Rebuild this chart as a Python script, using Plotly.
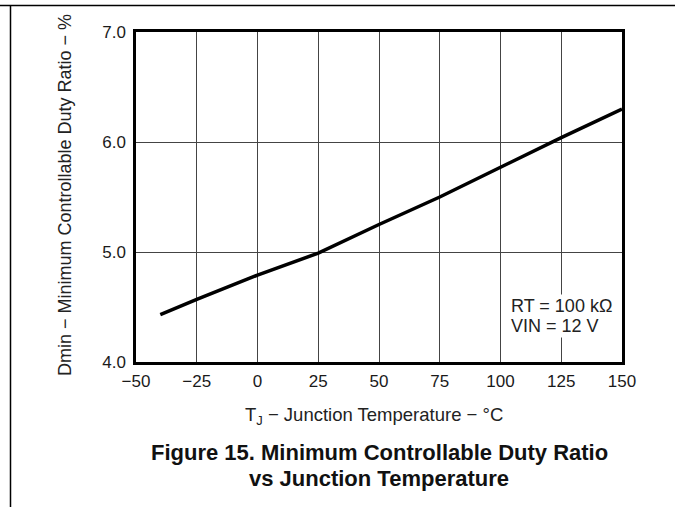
import plotly.graph_objects as go

temps = [-40, -25, 0, 25, 50, 75, 100, 125, 150]
duty = [4.43, 4.57, 4.79, 4.99, 5.25, 5.50, 5.77, 6.04, 6.30]
x_ticks = [-50, -25, 0, 25, 50, 75, 100, 125, 150]
y_ticks = [4.0, 5.0, 6.0, 7.0]

FONT = "Liberation Sans, Arial, sans-serif"
W, H = 675, 507
L, R, T, B = 136, 53, 32, 145
pw, ph = W - L - R, H - T - B

def px(xp):
    return (xp - L) / pw

def py(yp):
    return (H - B - yp) / ph

fig = go.Figure()
fig.add_trace(go.Scatter(x=temps, y=duty, mode="lines",
                         line=dict(color="black", width=3.5), showlegend=False))

fig.update_xaxes(range=[-50, 150], tickvals=x_ticks,
                 ticktext=[("\u2212" + str(-v)) if v < 0 else str(v) for v in x_ticks],
                 showgrid=True, gridcolor="#444", gridwidth=1,
                 showline=True, linecolor="black", linewidth=2.5, mirror=True,
                 ticks="outside", ticklen=2, tickcolor="rgba(0,0,0,0)",
                 zeroline=False, tickfont=dict(size=17, color="#1a1a1a", family=FONT))
fig.update_yaxes(range=[4.0, 7.0], tickvals=y_ticks, ticktext=[f"{v:.1f}" for v in y_ticks],
                 showgrid=True, gridcolor="#444", gridwidth=1,
                 showline=True, linecolor="black", linewidth=2.5, mirror=True,
                 ticks="outside", ticklen=4, tickcolor="rgba(0,0,0,0)",
                 zeroline=False, tickfont=dict(size=17, color="#1a1a1a", family=FONT))

annotations = [
    dict(x=px(65), y=py(195), xref="paper", yref="paper", xanchor="center", yanchor="middle",
         text="Dmin \u2212 Minimum Controllable Duty Ratio \u2212 %",
         textangle=-90, showarrow=False, font=dict(size=18, color="#222", family=FONT)),
    dict(x=px(374), y=py(416), xref="paper", yref="paper", xanchor="center", yanchor="middle",
         text="T<sub>J</sub> \u2212 Junction Temperature \u2212 \u00b0C",
         showarrow=False, font=dict(size=18.5, color="#222", family=FONT)),
    dict(x=px(379), y=py(452), xref="paper", yref="paper", xanchor="center", yanchor="middle",
         text="<b>Figure 15. Minimum Controllable Duty Ratio</b>",
         showarrow=False, font=dict(size=22, color="#111", family=FONT)),
    dict(x=px(379), y=py(478), xref="paper", yref="paper", xanchor="center", yanchor="middle",
         text="<b>vs Junction Temperature</b>",
         showarrow=False, font=dict(size=22, color="#111", family=FONT)),
    dict(x=px(509), y=py(306), xref="paper", yref="paper", xanchor="left", yanchor="middle",
         text="RT = 100 k\u03a9", align="left", showarrow=False,
         bgcolor="white", borderpad=1,
         font=dict(size=18, color="#222", family=FONT)),
    dict(x=px(509), y=py(326), xref="paper", yref="paper", xanchor="left", yanchor="middle",
         text="VIN = 12 V", align="left", showarrow=False,
         bgcolor="white", borderpad=1,
         font=dict(size=18, color="#222", family=FONT)),
]

shapes = [
    dict(type="line", xref="paper", yref="paper", x0=px(0), x1=px(W), y0=py(5.5), y1=py(5.5),
         line=dict(color="black", width=1.5)),
    dict(type="line", xref="paper", yref="paper", x0=px(10.5), x1=px(10.5), y0=py(5), y1=py(H),
         line=dict(color="black", width=1.5)),
]

fig.update_layout(width=W, height=H, margin=dict(l=L, r=R, t=T, b=B),
                  paper_bgcolor="white", plot_bgcolor="white",
                  annotations=annotations, shapes=shapes,
                  font=dict(family=FONT, color="#222"))

fig.write_html("out.html", config={"displayModeBar": False},
               post_script="document.body.style.margin='0';")
